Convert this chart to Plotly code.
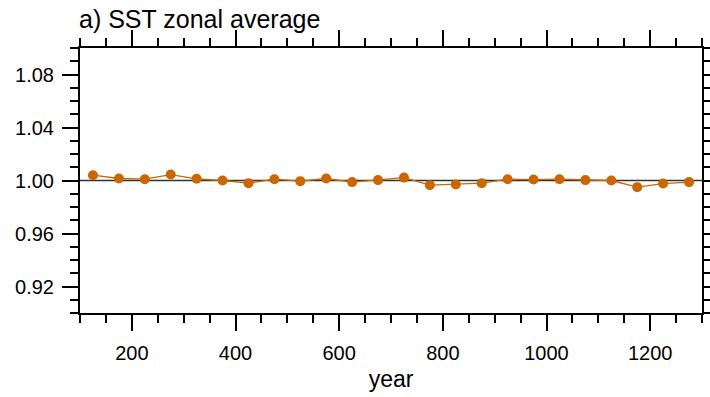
import plotly.graph_objects as go

years = [125, 175, 225, 275, 325, 375, 425, 475, 525, 575, 625, 675,
         725, 775, 825, 875, 925, 975, 1025, 1075, 1125, 1175, 1225, 1275]
sst = [1.0040, 1.0015, 1.0010, 1.0045, 1.0013, 1.0000, 0.9980, 1.0010,
       0.9995, 1.0015, 0.9988, 1.0003, 1.0022, 0.9965, 0.9970, 0.9980,
       1.0010, 1.0007, 1.0010, 1.0003, 1.0000, 0.9950, 0.9977, 0.9988]
ref_x = [100, 1300]
ref_y = [1.0, 1.0]
y_ticks = [0.92, 0.96, 1.00, 1.04, 1.08]
y_ticklabels = ["0.92", "0.96", "1.00", "1.04", "1.08"]
x_ticks = [200, 400, 600, 800, 1000, 1200]
title_text = "a) SST zonal average"

FONT = "Liberation Sans, Arial, Helvetica, sans-serif"
color = "#cc6600"

fig = go.Figure()
fig.add_trace(go.Scatter(x=ref_x, y=ref_y, mode="lines",
                         line=dict(color="#333333", width=1.6),
                         showlegend=False, hoverinfo="skip"))
fig.add_trace(go.Scatter(x=years, y=sst, mode="lines+markers",
                         line=dict(color=color, width=1.3),
                         marker=dict(color=color, size=10),
                         showlegend=False))

axis_common = dict(showline=True, linecolor="black", linewidth=2,
                   mirror="ticks", ticks="outside", ticklen=16, tickwidth=2,
                   tickcolor="black", showgrid=False, zeroline=False,
                   automargin=False,
                   tickfont=dict(family=FONT, size=20, color="black"))

fig.update_xaxes(range=[100, 1300], tickvals=x_ticks,
                 minor=dict(dtick=50, tick0=0, ticks="outside", ticklen=8,
                            tickwidth=1.5, tickcolor="black", showgrid=False),
                 title=dict(text="year", font=dict(family=FONT, size=23, color="black"),
                            standoff=8),
                 ticklabelstandoff=5,
                 **axis_common)
fig.update_yaxes(range=[0.90, 1.10], tickvals=y_ticks, ticktext=y_ticklabels,
                 minor=dict(dtick=0.01, tick0=0.9, ticks="outside", ticklen=8,
                            tickwidth=1.5, tickcolor="black", showgrid=False),
                 ticklabelstandoff=4,
                 **axis_common)

fig.add_annotation(text=title_text, xref="paper", yref="paper", x=0, y=1,
                   xanchor="left", yanchor="bottom", yshift=13, xshift=-3,
                   showarrow=False,
                   font=dict(family=FONT, size=25, color="black"))

fig.update_layout(width=710, height=397,
                  margin=dict(l=80, r=8, t=48, b=84),
                  paper_bgcolor="white", plot_bgcolor="white")

fig.write_html("out.html")
